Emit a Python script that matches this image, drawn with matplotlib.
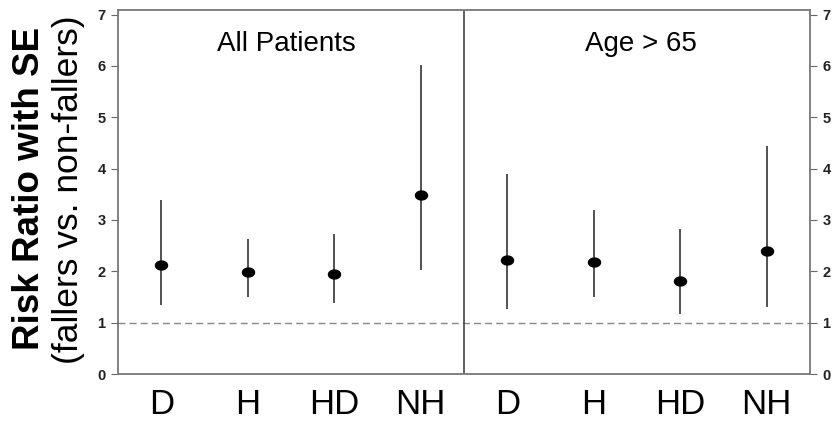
import matplotlib
matplotlib.use("Agg")
import matplotlib.pyplot as plt
import numpy as np
from matplotlib.path import Path

plt.rcParams['font.family'] = ['Liberation Sans', 'DejaVu Sans']

categories = ["D", "H", "HD", "NH", "D", "H", "HD", "NH"]
risk_ratio = [2.13, 1.98, 1.94, 3.49, 2.22, 2.19, 1.81, 2.40]
upper = [3.39, 2.62, 2.73, 6.01, 3.90, 3.19, 2.83, 4.45]
lower = [1.34, 1.50, 1.39, 2.02, 1.27, 1.50, 1.16, 1.31]
panel_titles = ["All Patients", "Age > 65"]
yticks = [0, 1, 2, 3, 4, 5, 6, 7]

fig = plt.figure(figsize=(8.4, 4.24), dpi=100)
ax = fig.add_axes([118/840, 50/424, 692/840, 364/424])

x = np.arange(1, len(categories) + 1)
ax.vlines(x, lower, upper, color='#444444', lw=1.3, zorder=2)

theta = np.linspace(0, 2*np.pi, 60)
ell = Path(np.column_stack([1.35*np.cos(theta), np.sin(theta)]), closed=True)
ax.scatter(x, risk_ratio, marker=ell, s=75, color='black', zorder=3)

ax.axhline(1, color='#888888', lw=1.0, ls=(0, (5, 3)), zorder=1)
ax.axvline(4.5, color='#444444', lw=1.2, zorder=1)

ax.set_xlim(0.5, 8.5)
ax.set_ylim(0, 7.09)
ax.set_xticks(x)
ax.set_xticklabels(categories, fontsize=25)
ax.tick_params(axis='x', length=0, pad=10)
ax.set_yticks(yticks)
ax.tick_params(axis='y', which='both', left=True, right=True, labelleft=True,
               labelright=True, length=5, color='#666666', labelsize=10.5, pad=4)
for lbl in ax.get_yticklabels():
    lbl.set_fontweight('bold')
    lbl.set_color('#222222')
for s in ax.spines.values():
    s.set_color('#777777')
    s.set_linewidth(1.3)

ax.text(2.45, 6.42, panel_titles[0], ha='center', va='center', fontsize=20)
ax.text(6.55, 6.42, panel_titles[1], ha='center', va='center', fontsize=20)

fig.text(30/840, 1 - 189/424, "Risk Ratio with SE", rotation=90, ha='center',
         va='center', fontsize=26.5, fontweight='bold')
fig.text(69/840, 1 - 190/424, "(fallers vs. non-fallers)", rotation=90, ha='center',
         va='center', fontsize=25.5)

fig.savefig("out.png", dpi=100)
